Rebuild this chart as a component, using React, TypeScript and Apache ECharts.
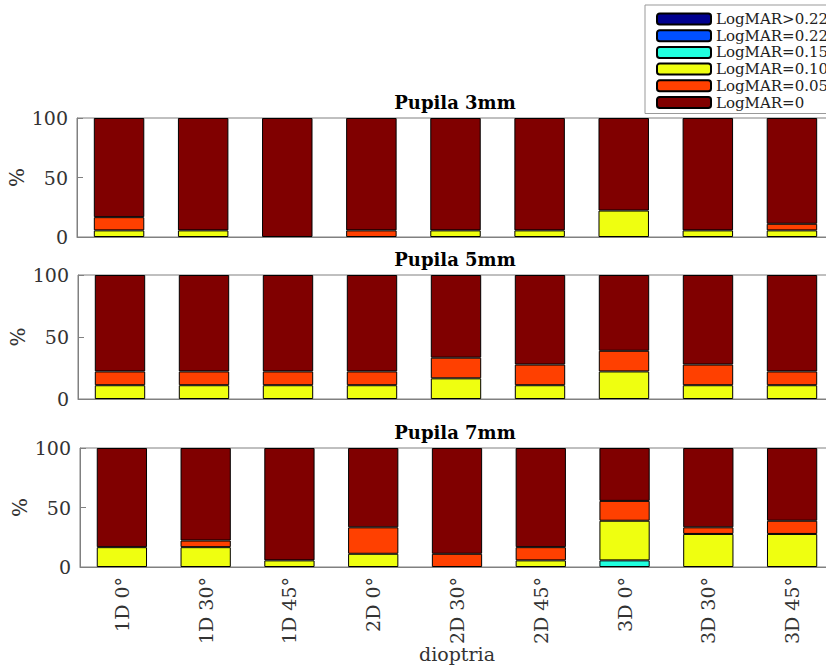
import React, { useEffect, useRef } from "react";
import * as echarts from "echarts";

const categories = ["1D 0°", "1D 30°", "1D 45°", "2D 0°", "2D 30°", "2D 45°", "3D 0°", "3D 30°", "3D 45°"];
const panelTitles = ["Pupila 3mm", "Pupila 5mm", "Pupila 7mm"];
const seriesNames = ["LogMAR>0.22", "LogMAR=0.22", "LogMAR=0.15", "LogMAR=0.10", "LogMAR=0.05", "LogMAR=0"];
const seriesColors = ["#00008F", "#0050FF", "#20FFDF", "#EFFF10", "#FF4000", "#800000"];
const yTicks = [0, 50, 100];

// Pupila 3mm
const p3_gt022 = [0, 0, 0, 0, 0, 0, 0, 0, 0];
const p3_022 = [0, 0, 0, 0, 0, 0, 0, 0, 0];
const p3_015 = [0, 0, 0, 0, 0, 0, 0, 0, 0];
const p3_010 = [5.56, 5.56, 0, 0, 5.56, 5.56, 22.22, 5.56, 5.56];
const p3_005 = [11.11, 0, 0, 5.56, 0, 0, 0, 0, 5.56];
const p3_0 = [83.33, 94.44, 100, 94.44, 94.44, 94.44, 77.78, 94.44, 88.89];

// Pupila 5mm
const p5_gt022 = [0, 0, 0, 0, 0, 0, 0, 0, 0];
const p5_022 = [0, 0, 0, 0, 0, 0, 0, 0, 0];
const p5_015 = [0, 0, 0, 0, 0, 0, 0, 0, 0];
const p5_010 = [11.11, 11.11, 11.11, 11.11, 16.67, 11.11, 22.22, 11.11, 11.11];
const p5_005 = [11.11, 11.11, 11.11, 11.11, 16.67, 16.67, 16.67, 16.67, 11.11];
const p5_0 = [77.78, 77.78, 77.78, 77.78, 66.67, 72.22, 61.11, 72.22, 77.78];

// Pupila 7mm
const p7_gt022 = [0, 0, 0, 0, 0, 0, 0, 0, 0];
const p7_022 = [0, 0, 0, 0, 0, 0, 0, 0, 0];
const p7_015 = [0, 0, 0, 0, 0, 0, 5.56, 0, 0];
const p7_010 = [16.67, 16.67, 5.56, 11.11, 0, 5.56, 33.33, 27.78, 27.78];
const p7_005 = [0, 5.56, 0, 22.22, 11.11, 11.11, 16.67, 5.56, 11.11];
const p7_0 = [83.33, 77.78, 94.44, 66.67, 88.89, 83.33, 44.44, 66.67, 61.11];

const panels = [
  [p3_gt022, p3_022, p3_015, p3_010, p3_005, p3_0],
  [p5_gt022, p5_022, p5_015, p5_010, p5_005, p5_0],
  [p7_gt022, p7_022, p7_015, p7_010, p7_005, p7_0],
];

const FONT = '"DejaVu Serif", serif';
const grids = [
  { left: 77, top: 118, width: 757, height: 119 },
  { left: 78, top: 275, width: 756, height: 124 },
  { left: 80, top: 448, width: 754, height: 119 },
];
const titleY = [102, 259, 432];

export default function App() {
  const ref = useRef<HTMLDivElement>(null);
  useEffect(() => {
    document.body.style.margin = "0";
    if (!ref.current) return;
    const chart = echarts.init(ref.current, null, { renderer: "svg" });
    const gray = "#808080";
    const textColor = "#333";
    const option: any = {
      animation: false,
      backgroundColor: "#fff",
      grid: grids.map((g) => ({
        ...g,
        show: true,
        borderColor: gray,
        borderWidth: 1,
        backgroundColor: "transparent",
        containLabel: false,
        outerBoundsMode: "none",
      })),
      xAxis: grids.map((g, i) => ({
        type: "category",
        gridIndex: i,
        data: categories,
        boundaryGap: true,
        axisLine: { show: true, lineStyle: { color: gray, width: 1 } },
        axisTick: { show: false },
        axisLabel: i === 2
          ? { show: true, rotate: 90, margin: 10, fontFamily: FONT, fontSize: 19, color: textColor }
          : { show: false },
        name: i === 2 ? "dioptria" : "",
        nameLocation: "middle",
        nameGap: 77,
        nameMoveOverlap: false,
        nameTextStyle: { fontFamily: FONT, fontSize: 19, color: textColor },
      })),
      yAxis: grids.map((g, i) => ({
        type: "value",
        gridIndex: i,
        min: 0,
        max: 100,
        interval: 50,
        splitLine: { show: false },
        axisLine: { show: true, lineStyle: { color: gray, width: 1 } },
        axisTick: { show: true, inside: true, length: 6, lineStyle: { color: gray } },
        axisLabel: {
          margin: 9,
          fontFamily: FONT,
          fontSize: 19,
          color: textColor,
          formatter: (v: number) => (yTicks.includes(v) ? String(v) : ""),
        },
        name: "%",
        nameLocation: "middle",
        nameGap: 50,
        nameMoveOverlap: false,
        nameRotate: 90,
        nameTextStyle: { fontFamily: FONT, fontSize: 20, color: textColor },
      })),
      legend: {
        show: true,
        orient: "vertical",
        left: 645,
        top: 5,
        padding: [6, 20, 3, 11],
        itemWidth: 54,
        itemHeight: 11,
        itemGap: 0.7,
        data: seriesNames,
        borderColor: "#999",
        borderWidth: 1,
        backgroundColor: "#fff",
        textStyle: { fontFamily: FONT, fontSize: 15, lineHeight: 16, color: "#222" },
        selectedMode: false,
      },
      graphic: panelTitles.map((t, i) => ({
        type: "text",
        x: 455,
        y: titleY[i],
        style: {
          text: t,
          font: `bold 18px ${FONT}`,
          textAlign: "center",
          textVerticalAlign: "middle",
          fill: "#000",
        },
      })),
      series: panels.flatMap((panel, p) =>
        panel.map((vals, s) => ({
          type: "bar",
          name: seriesNames[s],
          xAxisIndex: p,
          yAxisIndex: p,
          stack: "stack" + p,
          barWidth: "60%",
          data: vals.map((v) => (v === 0 ? null : v)),
          itemStyle: { color: seriesColors[s], borderColor: "#000", borderWidth: 1 },
          emphasis: { disabled: true },
        }))
      ),
    };
    chart.setOption(option);
    return () => chart.dispose();
  }, []);
  return <div ref={ref} style={{ width: 826, height: 666 }} />;
}
